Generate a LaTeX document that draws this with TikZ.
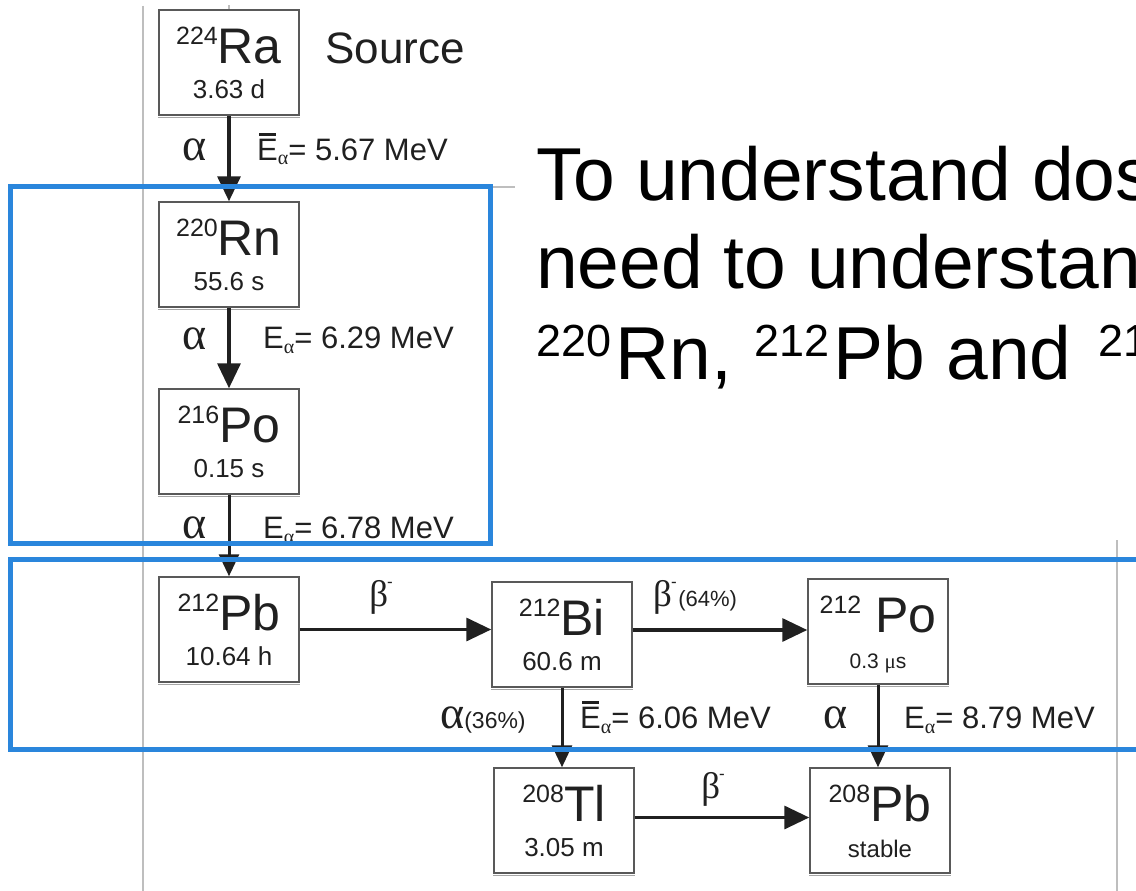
\documentclass[tikz,border=0pt]{standalone}
\usepackage{fontspec}
\setmainfont{Liberation Sans}
\newfontfamily\greekfont{Liberation Serif}
\usetikzlibrary{arrows.meta}

\definecolor{hiblue}{RGB}{42,134,220}
\definecolor{ink}{RGB}{32,32,32}
\definecolor{framegray}{RGB}{190,190,190}

\newcommand\fs[1]{\fontsize{#1}{#1}\selectfont}
% E with a Greek alpha subscript, and the same with a bar over the E
\newcommand\Ealpha{E\raisebox{-5pt}{\greekfont\fs{20}α}}
\newcommand\Ebar{\rlap{\hspace{2pt}\raisebox{24pt}{\rule{17pt}{2.6pt}}}\Ealpha}
% beta-minus label
\newcommand\betam{{\greekfont\fs{37}β}\kern-1pt\raisebox{19pt}{\fs{17}-}}

\tikzset{
  nucbox/.style={draw=black!65, line width=1.5pt, fill=white,
    minimum width=140pt, minimum height=105pt, inner sep=0pt},
  symtxt/.style={font=\fs{50}, text=ink, inner sep=0pt, anchor=base},
  lifetxt/.style={font=\fs{26}, text=ink, inner sep=0pt, anchor=base},
  alab/.style={font=\greekfont\fs{46}, text=ink, inner sep=0pt, anchor=base},
  elab/.style={font=\fs{31}, text=ink, inner sep=0pt, anchor=base west},
  bigdecay/.style={draw=ink, line width=3.4pt, -{Triangle[width=23pt,length=25pt]}},
  framerule/.style={draw=framegray, line width=1.5pt},
  highlight/.style={draw=hiblue, line width=5pt},
  headline/.style={font=\fs{75}, text=black, inner sep=0pt, anchor=base west},
}

% one nuclide box: name, centre x, top y, mass number, symbol, half-life
\newcommand\nuclide[6]{%
  \node[nucbox] (#1) at (#2,#3+52.5) {};
  \draw[black!35, line width=1.2pt] ([yshift=-1.4pt]#1.south west) -- ([yshift=-1.4pt]#1.south east);
  \node[symtxt] (#1-sym) at ([yshift=-54pt]#1.north) {\raisebox{19pt}{\fs{25}#4}#5};
  \node[lifetxt] (#1-life) at ([yshift=-89pt]#1.north) {#6};
}

\begin{document}
\begin{tikzpicture}[x=1pt, y=-1pt]
  \useasboundingbox (0,0) rectangle (1136,891);
  \clip (0,0) rectangle (1136,891);
  \fill[white] (0,0) rectangle (1136,891);

  % frame of the decay-chain figure
  \draw[framerule] (143,6) -- (143,891);
  \draw[framerule] (143,187) -- (515,187);
  \draw[framerule] (1117,540) -- (1117,891);

  % nuclides
  \nuclide{ra}{229}{10}{224}{Ra}{3.63 d}
  \nuclide{rn}{229}{202}{220}{Rn}{55.6 s}
  \nuclide{poa}{229}{389}{216}{Po}{0.15 s}
  \nuclide{pba}{229}{577}{212}{Pb}{10.64 h}
  \nuclide{bi}{562}{582}{212}{Bi}{60.6 m}
  \node[nucbox] (pob) at (878,578+53.5) {};
  \draw[black!35, line width=1.2pt] ([yshift=-1.4pt]pob.south west) -- ([yshift=-1.4pt]pob.south east);
  \node[symtxt] (pob-sym) at ([yshift=-54pt]pob.north) {\raisebox{19pt}{\fs{25}212} Po};
  \node[lifetxt, font=\fs{21}] (pob-life) at ([yshift=-90pt]pob.north) {0.3 {\greekfont μ}s};
  \nuclide{tl}{564}{768}{208}{Tl}{3.05 m}
  \node[nucbox] (pbb) at (880,768+52.5) {};
  \draw[black!35, line width=1.2pt] ([yshift=-1.4pt]pbb.south west) -- ([yshift=-1.4pt]pbb.south east);
  \node[symtxt] (pbb-sym) at ([yshift=-54pt]pbb.north) {\raisebox{19pt}{\fs{25}208}Pb};
  \node[lifetxt, font=\fs{24}] (pbb-life) at ([yshift=-90pt]pbb.north) {stable};

  % source label
  \node[font=\fs{44}, text=ink, inner sep=0pt, anchor=base west] (src) at (325,64) {Source};
  \draw[framerule] (ra.north) -- ([yshift=4pt]ra.north);

  % decays
  \draw[bigdecay] (ra.south) -- (rn.north);
  \draw[bigdecay] (rn.south) -- (poa.north);
  \draw[bigdecay, line width=3pt, -{Triangle[width=20pt,length=22pt]}] (poa.south) -- (pba.north);
  \draw[bigdecay] (pba.east) -- (pba.east -| bi.west);
  \draw[bigdecay] ([yshift=4.5pt]bi.east) -- ([yshift=4.5pt]bi.east -| pob.west);
  \draw[bigdecay, line width=3pt, -{Triangle[width=20pt,length=22pt]}] (bi.south) -- (bi.south |- tl.north);
  \draw[bigdecay, line width=3pt, -{Triangle[width=20pt,length=22pt]}] (pob.south) -- (pob.south |- pbb.north);
  \draw[bigdecay] ([yshift=3pt]tl.east) -- ([yshift=3pt]tl.east -| pbb.west);

  % decay labels
  \node[alab] (a1) at (195,160) {α};
  \node[elab] (e1) at (257,160) {\Ebar= 5.67 MeV};
  \node[alab] (a2) at (195,349) {α};
  \node[elab] (e2) at (263,348) {\Ealpha= 6.29 MeV};
  \node[alab] (a3) at (195,538) {α};
  \node[elab] (e3) at (263,538) {\Ealpha= 6.78 MeV};
  \node[alab, anchor=base west] (a4) at (440,728) {α{\fontspec{Liberation Sans}\fs{23}(36\%)}};
  \node[elab] (e4) at (580,728) {\Ebar= 6.06 MeV};
  \node[alab] (a5) at (836,728) {α};
  \node[elab] (e5) at (904,728) {\Ealpha= 8.79 MeV};
  \node[inner sep=0pt, text=ink, anchor=base] (b1) at (381,606) {\betam};
  \node[inner sep=0pt, text=ink, anchor=base west] (b2) at (653,606) {\betam\,{\fs{22}(64\%)}};
  \node[inner sep=0pt, text=ink, anchor=base] (b3) at (713,798) {\betam};

  % slide text
  \node[headline] (l1) at (536,200) {To understand dos};
  \node[headline] (l2) at (536,288) {need to understan};
  \node[headline] (l3) at (536,379) {\raisebox{23pt}{\fs{45}220}\hspace{4pt}Rn, \hspace{2pt}\raisebox{23pt}{\fs{45}212}\hspace{4pt}Pb and \hspace{6pt}\raisebox{23pt}{\fs{45}21}};

  % highlighted regions
  \draw[highlight] (10,186) rectangle (490,543);
  \draw[highlight] (10,559) rectangle (1160,749);
\end{tikzpicture}
\end{document}
